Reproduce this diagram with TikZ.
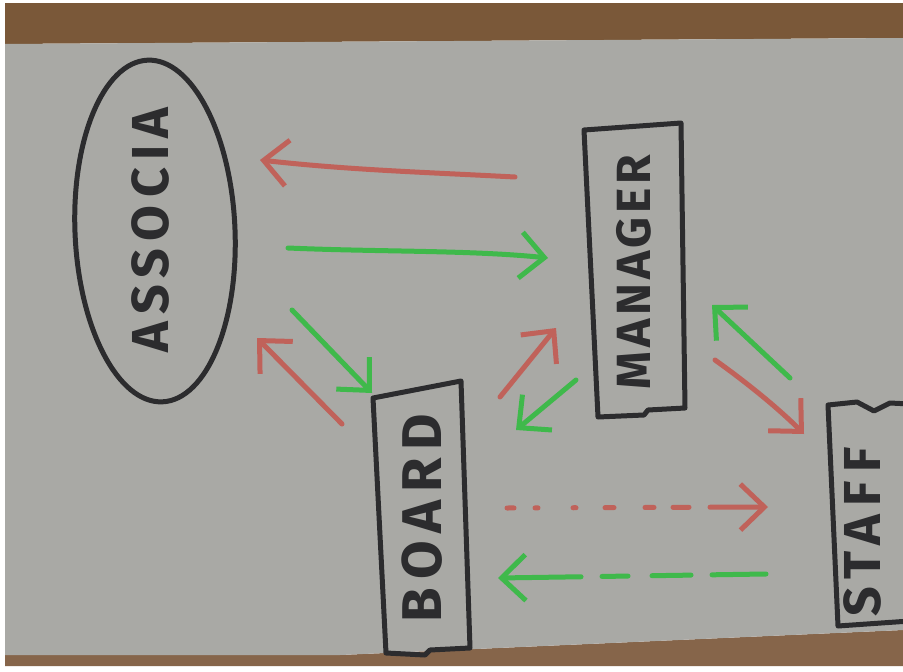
\documentclass[tikz,border=0pt]{standalone}
\usepackage{fontspec}
\setmainfont{Fira Sans}
\usetikzlibrary{arrows.meta,shapes.geometric}
\definecolor{paper}{HTML}{A9A9A5}
\definecolor{woodtop}{HTML}{7A5839}
\definecolor{woodbot}{HTML}{86654A}
\definecolor{pen}{HTML}{2C2C2E}
\definecolor{redpen}{HTML}{C0625A}
\definecolor{greenpen}{HTML}{3FB94B}
\begin{document}
\begin{tikzpicture}[x=1pt,y=-1pt,
  box/.style={draw=pen,line width=5pt,line join=round,line cap=round},
  lbl/.style={rotate=90,text=pen,inner sep=0pt},
  headr/.style={-{Straight Barb[length=24pt,width=46pt,line width=5pt]}},
  redarr/.style={draw=redpen,line width=5pt,line cap=round,line join=round,headr},
  greenarr/.style={draw=greenpen,line width=5pt,line cap=round,line join=round,headr}]
\useasboundingbox (0,0) rectangle (903,672);
\clip (0,0) rectangle (903,672);
% background: white margin, wood strips, paper
\fill[white] (0,0) rectangle (903,672);
\fill[woodtop] (5,3) -- (903,3) -- (903,38) -- (5,44) -- cycle;
\fill[woodbot] (5,655) -- (340,655) -- (903,630) -- (903,666) -- (5,666) -- cycle;
\fill[paper] (5,44) -- (903,38) -- (903,630) -- (340,655) -- (5,655) -- cycle;

% ASSOCIA ellipse
\node[ellipse,draw=pen,line width=5pt,minimum width=160pt,minimum height=342pt,rotate=2.5] (assoc) at (155,231) {};
\node[lbl,font=\bfseries\fontsize{52}{52}\selectfont\addfontfeatures{LetterSpace=14}] (assoctext) at (150,230) {ASSOCIA};

% MANAGER box
\draw[box] (584,130) -- (681,123) -- (685,408) -- (648,410) -- (644,415) -- (598,417) -- cycle;
\node[lbl,font=\bfseries\fontsize{48}{48}\selectfont\addfontfeatures{LetterSpace=8}] (manager) at (634,272) {MANAGER};

% BOARD box
\draw[box] (373,398) -- (461,381) -- (470,648) -- (430,650) -- (425,655) -- (386,653) -- cycle;
\node[lbl,font=\bfseries\fontsize{56}{56}\selectfont\addfontfeatures{LetterSpace=14}] (board) at (422,518) {BOARD};

% STAFF box (cut at right edge)
\draw[box] (910,404) -- (890,403) -- (874,411) -- (857,402) -- (828,405) -- (838,626) -- (910,621);
\node[lbl,font=\bfseries\fontsize{52}{52}\selectfont\addfontfeatures{LetterSpace=16}] (staff) at (862,532) {STAFF};

% arrow end points
\coordinate (r1s) at (515,177); \coordinate (r1e) at (260,160);
\coordinate (g1s) at (288,248); \coordinate (g1e) at (548,258);
\coordinate (g2s) at (292,310); \coordinate (g2e) at (372,393);
\coordinate (r2s) at (342,424); \coordinate (r2e) at (257,338);
\coordinate (r3s) at (500,397); \coordinate (r3e) at (556,328);
\coordinate (g3s) at (576,380); \coordinate (g3e) at (516,430);
\coordinate (g4s) at (790,378); \coordinate (g4e) at (712,305);
\coordinate (r4s) at (715,360); \coordinate (r4e) at (804,434);
\coordinate (r5s) at (507,508); \coordinate (r5e) at (768,507);
\coordinate (g5s) at (766,574); \coordinate (g5e) at (498,578);

% associa <-> manager
\draw[redarr] (r1s) .. controls (420,172) and (350,170) .. (r1e);
\draw[greenarr] (g1s) .. controls (380,252) and (470,250) .. (g1e);
% associa <-> board
\draw[greenarr] (g2s) -- (g2e);
\draw[redarr] (r2s) -- (r2e);
% board <-> manager
\draw[redarr] (r3s) -- (r3e);
\draw[greenarr] (g3s) -- (g3e);
% manager <-> staff
\draw[greenarr] (g4s) -- (g4e);
\draw[redarr] (r4s) .. controls (750,385) and (780,410) .. (r4e);
% board <-> staff (dashed)
\draw[redarr,dash pattern=on 7pt off 21pt on 3pt off 35pt on 3pt off 29pt on 9pt off 31pt on 9pt off 19pt on 16pt off 21pt on 80pt off 0pt] (r5s) -- (r5e);
\draw[greenarr,dash pattern=on 54pt off 21pt on 39pt off 24pt on 26pt off 21pt on 120pt off 0pt] (g5s) -- (g5e);
\end{tikzpicture}
\end{document}
